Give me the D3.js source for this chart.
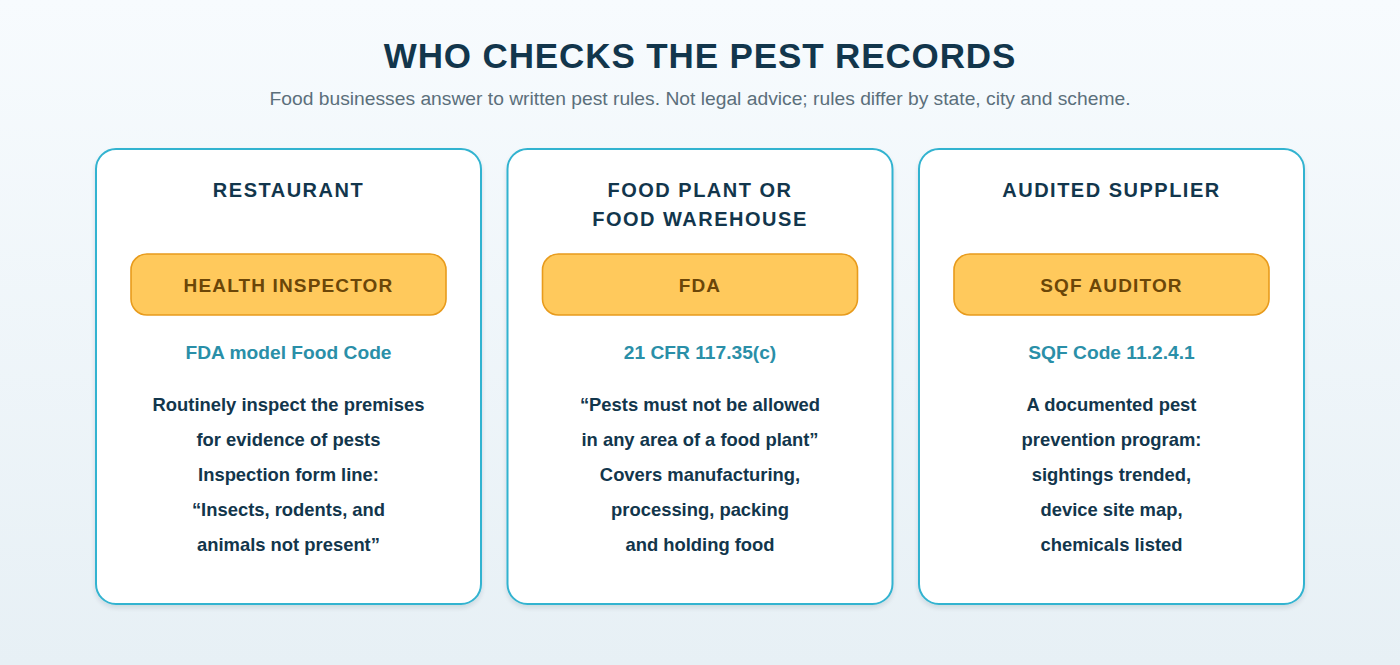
<!DOCTYPE html>
<html>
<head>
  <title>Who checks the pest records</title>
  <meta charset="utf-8">
  <script src="https://cdnjs.cloudflare.com/ajax/libs/d3/7.8.5/d3.min.js"></script>
  <style>
    html, body { margin: 0; padding: 0; overflow: hidden; }
    text { font-family: "Liberation Sans", Arial, sans-serif; text-anchor: middle; }
    .title { font-size: 35px; font-weight: 700; fill: #12364c; letter-spacing: 0.88px; }
    .subtitle { font-size: 19.25px; fill: #5b6f7b; }
    .heading { font-size: 20px; font-weight: 700; fill: #12364c; letter-spacing: 1.5px; }
    .role { font-size: 19px; font-weight: 700; fill: #6b4608; letter-spacing: 1.15px; }
    .rule { font-size: 19.2px; font-weight: 700; fill: #2a8fa8; }
    .body { font-size: 18.4px; font-weight: 700; fill: #12364c; }
  </style>
</head>
<body>
<div id="chart"></div>
<script>

var titleText = "WHO CHECKS THE PEST RECORDS";
var subtitleText = "Food businesses answer to written pest rules. Not legal advice; rules differ by state, city and scheme.";

var cards = ["restaurant", "plant", "supplier"];
var headings = [
  ["RESTAURANT"],
  ["FOOD PLANT OR", "FOOD WAREHOUSE"],
  ["AUDITED SUPPLIER"]
];
var roles = ["HEALTH INSPECTOR", "FDA", "SQF AUDITOR"];
var rules = ["FDA model Food Code", "21 CFR 117.35(c)", "SQF Code 11.2.4.1"];
var bodies = [
  ["Routinely inspect the premises", "for evidence of pests", "Inspection form line:", "\u201CInsects, rodents, and", "animals not present\u201D"],
  ["\u201CPests must not be allowed", "in any area of a food plant\u201D", "Covers manufacturing,", "processing, packing", "and holding food"],
  ["A documented pest", "prevention program:", "sightings trended,", "device site map,", "chemicals listed"]
];

var width = 1400, height = 665;

var svg = d3.select("#chart")
  .append("svg")
    .attr("width", width)
    .attr("height", height)
    .style("display", "block");

var defs = svg.append("defs");
var grad = defs.append("linearGradient")
    .attr("id", "bg")
    .attr("x1", 0).attr("y1", 0).attr("x2", 0).attr("y2", 1);
grad.append("stop").attr("offset", "0%").attr("stop-color", "#f7fbfe");
grad.append("stop").attr("offset", "100%").attr("stop-color", "#e7f0f5");

var shadow = defs.append("filter")
    .attr("id", "shadow")
    .attr("x", "-5%").attr("y", "-5%").attr("width", "110%").attr("height", "110%");
shadow.append("feDropShadow")
    .attr("dx", 0).attr("dy", 3).attr("stdDeviation", 2)
    .attr("flood-color", "#12364c").attr("flood-opacity", 0.12);

svg.append("rect")
    .attr("width", width)
    .attr("height", height)
    .attr("fill", "url(#bg)");

svg.append("text").attr("class", "title")
    .attr("x", 700).attr("y", 68)
    .text(titleText);
svg.append("text").attr("class", "subtitle")
    .attr("x", 700).attr("y", 105)
    .text(subtitleText);

var x = d3.scaleBand()
    .domain(cards)
    .range([96, 1304])
    .paddingInner(0.0644);

var card = svg.selectAll(".card")
  .data(cards)
  .enter()
  .append("g")
    .attr("class", "card")
    .attr("transform", d => "translate(" + x(d) + ",149)");

var cw = x.bandwidth();

card.append("rect")
    .attr("width", cw)
    .attr("height", 455)
    .attr("rx", 20)
    .attr("fill", "#fff")
    .attr("stroke", "#33b3d0")
    .attr("stroke-width", 2)
    .attr("filter", "url(#shadow)");

// heading, one or two lines
card.selectAll(".heading")
  .data((d, i) => headings[i])
  .enter()
  .append("text")
    .attr("class", "heading")
    .attr("x", cw / 2)
    .attr("y", (d, i) => 47.5 + i * 29)
    .text(d => d);

card.append("rect")
    .attr("x", cw / 2 - 157.5)
    .attr("y", 105)
    .attr("width", 315)
    .attr("height", 61)
    .attr("rx", 16)
    .attr("fill", "#ffc95c")
    .attr("stroke", "#e89b1c")
    .attr("stroke-width", 1.6);

card.append("text")
    .attr("class", "role")
    .attr("x", cw / 2)
    .attr("y", 143)
    .text((d, i) => roles[i]);

card.append("text")
    .attr("class", "rule")
    .attr("x", cw / 2)
    .attr("y", 209.5)
    .text((d, i) => rules[i]);

card.selectAll(".body")
  .data((d, i) => bodies[i])
  .enter()
  .append("text")
    .attr("class", "body")
    .attr("x", cw / 2)
    .attr("y", (d, i) => 262 + i * 35)
    .text(d => d);

</script>
</body>
</html>
